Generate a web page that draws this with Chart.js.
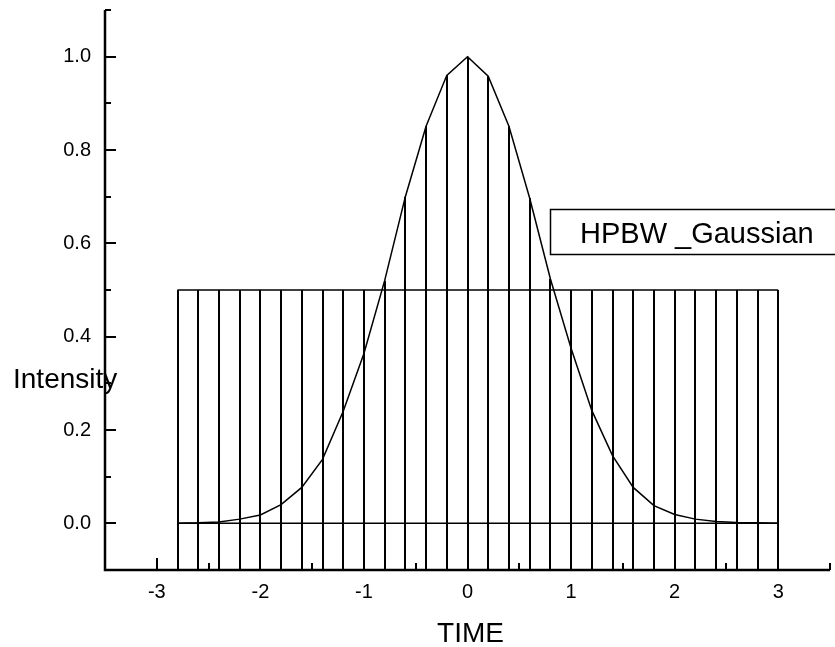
<!DOCTYPE html>
<html>
<head>
<meta charset="utf-8">
<script src="https://cdn.jsdelivr.net/npm/chart.js@4.4.0/dist/chart.umd.min.js"></script>
<style>
  html, body { margin: 0; padding: 0; background: #fff; }
  canvas { display: block; }
</style>
</head>
<body>
<canvas id="myChart" width="835" height="647"></canvas>
<script>
// sample times (every drop line sits on one of these)
const times = [-2.8, -2.6, -2.4, -2.2, -2.0, -1.8, -1.6, -1.4, -1.2, -1.0,
  -0.8, -0.6, -0.4, -0.2, 0.0, 0.2, 0.4, 0.6, 0.8, 1.0,
  1.2, 1.4, 1.6, 1.8, 2.0, 2.2, 2.4, 2.6, 2.8, 3.0];
// gaussian pulse
const gaussian = [0.0, 0.001, 0.003, 0.009, 0.018, 0.04, 0.077, 0.137, 0.24, 0.364,
  0.52, 0.70, 0.851, 0.96, 1.0, 0.958, 0.851, 0.697, 0.524, 0.375,
  0.242, 0.145, 0.077, 0.038, 0.019, 0.009, 0.004, 0.002, 0.001, 0.0];
// half power level
const hpbw = [0.5, 0.5, 0.5, 0.5, 0.5, 0.5, 0.5, 0.5, 0.5, 0.5,
  0.5, 0.5, 0.5, 0.5, 0.5, 0.5, 0.5, 0.5, 0.5, 0.5,
  0.5, 0.5, 0.5, 0.5, 0.5, 0.5, 0.5, 0.5, 0.5, 0.5];
const baseline = [0, 0, 0, 0, 0, 0, 0, 0, 0, 0,
  0, 0, 0, 0, 0, 0, 0, 0, 0, 0,
  0, 0, 0, 0, 0, 0, 0, 0, 0, 0];

const xTicks = [-3, -2, -1, 0, 1, 2, 3];
const xMinorTicks = [-2.5, -1.5, -0.5, 0.5, 1.5, 2.5, 3.5];
const yTicks = [0.0, 0.2, 0.4, 0.6, 0.8, 1.0];
const yMinorTicks = [0.1, 0.3, 0.5, 0.7, 0.9, 1.1];

const legendText = 'HPBW _Gaussian';
const FONT = '"Liberation Sans", Arial, sans-serif';

const toPoints = (ys) => times.map((t, i) => ({ x: t, y: ys[i] }));

// vertical lines from the bottom axis up to each point
const dropLines = {
  id: 'dropLines',
  beforeDatasetsDraw(chart) {
    const { ctx, scales: { x, y } } = chart;
    const bottom = y.getPixelForValue(y.min);
    ctx.save();
    ctx.strokeStyle = '#000';
    ctx.lineWidth = 2;
    chart.data.datasets.forEach(ds => {
      if (!ds.drop) return;
      ds.data.forEach(p => {
        const px = Math.round(x.getPixelForValue(p.x));
        ctx.beginPath();
        ctx.moveTo(px, bottom);
        ctx.lineTo(px, y.getPixelForValue(p.y));
        ctx.stroke();
      });
    });
    ctx.restore();
  }
};

// axes with inward ticks, axis titles and the legend box
const frame = {
  id: 'frame',
  afterDraw(chart) {
    const { ctx, chartArea: a, scales: { x, y } } = chart;
    ctx.save();
    ctx.strokeStyle = '#000';
    ctx.fillStyle = '#000';

    ctx.lineWidth = 2.5;
    ctx.beginPath();
    ctx.moveTo(a.left, a.top);
    ctx.lineTo(a.left, a.bottom);
    ctx.lineTo(a.right, a.bottom);
    ctx.stroke();

    ctx.lineWidth = 2;
    const tick = (vals, len, horiz) => vals.forEach(v => {
      ctx.beginPath();
      if (horiz) {
        const px = Math.round(x.getPixelForValue(v));
        ctx.moveTo(px, a.bottom);
        ctx.lineTo(px, a.bottom - len);
      } else {
        const py = Math.round(y.getPixelForValue(v));
        ctx.moveTo(a.left, py);
        ctx.lineTo(a.left + len, py);
      }
      ctx.stroke();
    });
    tick(xTicks, 12, true);
    tick(xMinorTicks, 7, true);
    tick(yTicks, 11, false);
    tick(yMinorTicks, 6, false);

    ctx.textBaseline = 'alphabetic';
    ctx.font = '28px ' + FONT;
    ctx.textAlign = 'left';
    ctx.fillText('Intensity', a.left - 92, 388);
    ctx.textAlign = 'center';
    ctx.fillText('TIME', (a.left + a.right) / 2 + 3, 642);

    ctx.lineWidth = 1.5;
    ctx.strokeRect(550.5, 209.5, 300, 45);
    ctx.font = '29px ' + FONT;
    ctx.textAlign = 'left';
    ctx.fillText(legendText, 580, 243);
    ctx.restore();
  }
};

const lineStyle = {
  borderColor: '#000',
  borderWidth: 1.5,
  pointRadius: 0,
  tension: 0,
  fill: false
};

new Chart(document.getElementById('myChart').getContext('2d'), {
  type: 'line',
  data: {
    datasets: [
      { label: 'Gaussian', data: toPoints(gaussian), drop: true, ...lineStyle },
      { label: 'HPBW', data: toPoints(hpbw), drop: true, ...lineStyle },
      { label: 'baseline', data: toPoints(baseline), ...lineStyle }
    ]
  },
  options: {
    responsive: false,
    animation: false,
    layout: { padding: { left: 0, right: 5, top: 10, bottom: 0 } },
    plugins: { legend: { display: false }, tooltip: { enabled: false } },
    scales: {
      x: {
        type: 'linear',
        min: -3.5,
        max: 3.5,
        grid: { display: false, drawTicks: false },
        border: { display: false },
        afterBuildTicks: (s) => { s.ticks = xTicks.map(v => ({ value: v })); },
        afterFit: (s) => { s.height = 77; s.paddingLeft = 0; s.paddingRight = 0; },
        ticks: {
          color: '#000',
          font: { family: FONT, size: 20 },
          padding: 10,
          callback: (v) => String(v)
        }
      },
      y: {
        type: 'linear',
        min: -0.1,
        max: 1.1,
        grid: { display: false, drawTicks: false },
        border: { display: false },
        afterBuildTicks: (s) => { s.ticks = yTicks.map(v => ({ value: v })); },
        afterFit: (s) => { s.width = 105; s.paddingTop = 0; s.paddingBottom = 0; },
        ticks: {
          color: '#000',
          font: { family: FONT, size: 20 },
          padding: 14,
          callback: (v) => v.toFixed(1)
        }
      }
    }
  },
  plugins: [dropLines, frame]
});
</script>
</body>
</html>
